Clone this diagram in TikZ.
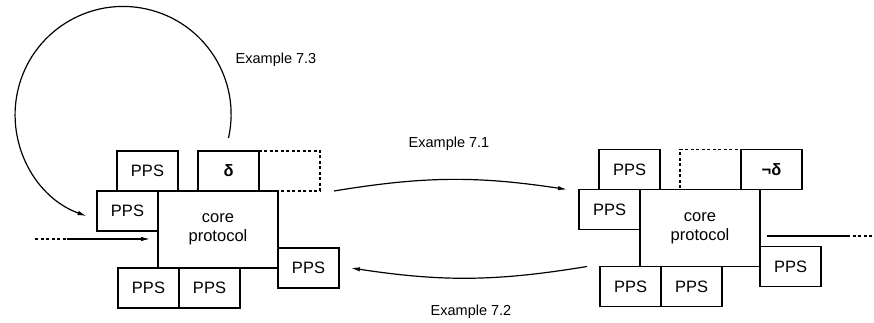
\documentclass[tikz,border=0pt]{standalone}
\usepackage{fontspec}
\setmainfont{Liberation Sans}
\usetikzlibrary{arrows.meta, positioning}

\tikzset{
  box/.style={draw, line width=1.2pt, inner sep=0pt, outer sep=0pt,
    minimum width=61pt, minimum height=40pt, font=\fontsize{16.5}{19}\selectfont},
  core/.style={box, minimum width=120pt, minimum height=77pt, align=center},
  ghost/.style={box, dash pattern=on 3pt off 2.5pt},
  arr/.style={line width=1.2pt, -{Latex[length=9pt,width=4.5pt]}},
  lbl/.style={font=\fontsize{14.5}{17}\selectfont}
}

\begin{document}
\begin{tikzpicture}[x=1pt, y=1pt]
    \useasboundingbox (0,0) rectangle (874,323);

    % Left system: protocol with delta attached
    \node[core] (lcore) at (218,93.5) {core\\protocol};
    \node[box, anchor=north east] (lleft) at (lcore.north west) {PPS};
    \node[box, anchor=south west] (ltop) at ([xshift=-41pt]lcore.north west) {PPS};
    \node[box, anchor=south west] (ldelta) at ([xshift=40pt]lcore.north west) {\bfseries δ};
    \node[ghost, anchor=south west] (ldash) at (ldelta.south east) {};
    \node[box, anchor=north west] (lbotA) at ([xshift=-40pt]lcore.south west) {PPS};
    \node[box, anchor=north west] (lbotB) at (lbotA.north east) {PPS};
    \node[box, anchor=north west] (lright) at ([yshift=20pt]lcore.south east) {PPS};

    % Right system: delta replaced by its negation
    \node[core] (rcore) at (700,95) {core\\protocol};
    \node[box, anchor=north east] (rleft) at (rcore.north west) {PPS};
    \node[box, anchor=south west] (rtop) at ([xshift=-41pt]rcore.north west) {PPS};
    \node[ghost, anchor=south west] (rdash) at ([xshift=40pt]rcore.north west) {};
    \node[box, anchor=south west] (rneg) at (rdash.south east) {\bfseries ¬δ};
    \node[box, anchor=north west] (rbotA) at ([xshift=-40pt]rcore.south west) {PPS};
    \node[box, anchor=north west] (rbotB) at (rbotA.north east) {PPS};
    \node[box, anchor=north west] (rright) at ([yshift=20pt]rcore.south east) {PPS};

    % Incoming and outgoing lines
    \coordinate (lin) at (35,84);
    \coordinate (lsplit) at (67,84);
    \draw[line width=1.2pt, dash pattern=on 3pt off 2.5pt] (lin) -- (lsplit);
    \draw[arr] (lsplit) -- ([xshift=-8pt]lcore.west |- lsplit);
    \coordinate (rsplit) at (847,87);
    \coordinate (rout) at (873,87);
    \draw[line width=1.2pt] ([xshift=7pt]rcore.east |- rsplit) -- (rsplit);
    \draw[line width=1.2pt, dash pattern=on 3pt off 2.5pt] (rsplit) -- (rout);

    % Transitions
    \draw[arr] ([xshift=14pt]ldash.south east) to[bend left=9] ([xshift=-12pt]rleft.north west);
    \draw[arr] ([xshift=-13pt]rbotA.north west) to[bend left=9] ([xshift=12pt]lright.east);
    \draw[arr] ([yshift=13pt]ldelta.north) arc[start angle=-12.6, end angle=250.2, radius=108pt];

    % Labels
    \node[lbl] (ex1) at (449,179) {Example 7.1};
    \node[lbl] (ex2) at (471,11) {Example 7.2};
    \node[lbl] (ex3) at (276,263) {Example 7.3};
\end{tikzpicture}
\end{document}
